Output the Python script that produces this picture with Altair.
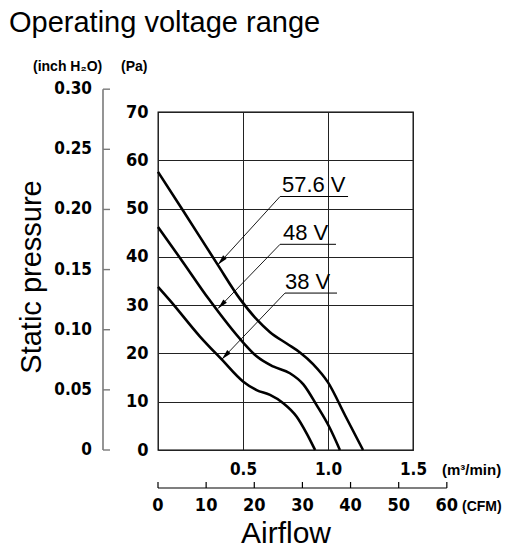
import math
import altair as alt
import pandas as pd

# ---- chart values ---------------------------------------------------------
title_text = "Operating voltage range"
series_names = ["57.6 V", "48 V", "38 V"]

# airflow (m3/min) and static pressure (Pa) along each voltage curve
flow_576 = [0, 0.147, 0.347, 0.482, 0.582, 0.659, 0.759, 0.835, 0.912, 1.0, 1.1, 1.206]
pres_576 = [57.6, 49.6, 38.6, 31.3, 27.0, 24.4, 22.0, 20.2, 17.8, 14.0, 7.2, 0]

flow_48 = [0, 0.147, 0.3, 0.5, 0.58, 0.677, 0.776, 0.855, 0.933, 1.01, 1.07]
pres_48 = [46.2, 38.9, 31.2, 22.3, 19.4, 17.3, 15.9, 13.6, 9.3, 4.6, 0]

flow_38 = [0, 0.07, 0.247, 0.376, 0.5, 0.58, 0.659, 0.737, 0.816, 0.875, 0.924]
pres_38 = [33.8, 31.0, 23.5, 18.7, 14.2, 12.4, 11.4, 9.7, 6.9, 3.4, 0]

# callout labels: text anchor, underline, arrow tip (data units)
label_flow = [0.729, 0.735, 0.747]
label_pres = [53.4, 43.5, 33.3]
underline_start = [0.718, 0.718, 0.747]
underline_end = [1.118, 1.047, 1.053]
underline_pres = [52.5, 42.6, 32.5]
tip_flow = [0.353, 0.353, 0.376]
tip_pres = [38.4, 29.3, 18.8]

pa_ticks = [0, 10, 20, 30, 40, 50, 60, 70]
inch_ticks = [0, 0.05, 0.10, 0.15, 0.20, 0.25, 0.30]
flow_ticks = [0.5, 1.0, 1.5]
cfm_ticks = [0, 10, 20, 30, 40, 50, 60]

PA_PER_INCH = 249.089
CFM_PER_M3MIN = 35.3147

# ---- layout ---------------------------------------------------------------
W, H = 255, 338
X_MAX, Y_MAX = 1.5, 70
NUM_FONT = "Liberation Sans Narrow, DejaVu Sans Condensed, sans-serif"
TXT_FONT = "Liberation Sans, Arial, sans-serif"

xs = alt.Scale(domain=[0, X_MAX], nice=False, zero=False)
ys = alt.Scale(domain=[0, Y_MAX], nice=False, zero=False)

AX = alt.Axis(
    values=flow_ticks, format=".1f", title=None, ticks=False, domain=False,
    grid=True, gridColor="#222", gridWidth=1, labelFlush=False,
    labelFont=NUM_FONT, labelFontWeight="bold", labelFontSize=17,
    labelColor="black", labelPadding=11)
AY = alt.Axis(
    values=pa_ticks, title=None, ticks=False, domain=False,
    grid=True, gridColor="#222", gridWidth=1,
    labelFont=NUM_FONT, labelFontWeight="bold", labelFontSize=18,
    labelColor="black", labelPadding=10)


def X(field):
    return alt.X(field, scale=xs, axis=AX)


def Y(field):
    return alt.Y(field, scale=ys, axis=AY)


curves = pd.concat([
    pd.DataFrame({"series": n, "flow": f, "pressure": p})
    for n, f, p in [
        (series_names[0], flow_576, pres_576),
        (series_names[1], flow_48, pres_48),
        (series_names[2], flow_38, pres_38),
    ]
], ignore_index=True)

# arrowhead orientation in screen space (clockwise from "up")
angles = []
for i in range(3):
    dx = (tip_flow[i] - underline_start[i]) * W / X_MAX
    dy = -(tip_pres[i] - underline_pres[i]) * H / Y_MAX
    angles.append(math.degrees(math.atan2(dx, -dy)) % 360)

callouts = pd.DataFrame({
    "series": series_names,
    "lx": label_flow, "ly": label_pres,
    "u0": underline_start, "u1": underline_end, "uy": underline_pres,
    "tx": tip_flow, "ty": tip_pres, "angle": angles,
})

lines = alt.Chart(curves).mark_line(
    interpolate="monotone", color="black", strokeWidth=2.6
).encode(x=X("flow:Q"), y=Y("pressure:Q"), detail="series:N")

label_text = alt.Chart(callouts).mark_text(
    align="left", baseline="alphabetic", font=TXT_FONT, fontSize=22, color="black"
).encode(x=X("lx:Q"), y=Y("ly:Q"), text="series:N")

underline = alt.Chart(callouts).mark_rule(color="black", strokeWidth=1).encode(
    x=X("u0:Q"), x2="u1:Q", y=Y("uy:Q"))

leader = alt.Chart(callouts).mark_rule(color="black", strokeWidth=0.9).encode(
    x=X("u0:Q"), x2="tx:Q", y=Y("uy:Q"), y2="ty:Q")

heads = alt.Chart(callouts).mark_point(
    shape="M0,0L0.24,1L-0.24,1Z", filled=True, color="black", opacity=1, size=420
).encode(x=X("tx:Q"), y=Y("ty:Q"), angle=alt.Angle("angle:Q", scale=None))

# secondary pressure axis in inch H2O, left of the Pa labels
inch_df = pd.DataFrame({"inch": inch_ticks})
inch_df["pa"] = inch_df["inch"] * PA_PER_INCH
inch_df["label"] = ["0" if v == 0 else f"{v:.2f}" for v in inch_ticks]
inch_span = pd.DataFrame({"lo": [0.0], "hi": [max(inch_ticks) * PA_PER_INCH]})

inch_line = alt.Chart(inch_span).mark_rule(color="#7a7a7a", strokeWidth=1.6).encode(
    x=alt.value(-55), y=Y("lo:Q"), y2="hi:Q")
inch_tick = alt.Chart(inch_df).mark_rule(color="#7a7a7a", strokeWidth=1.4).encode(
    x=alt.value(-55), x2=alt.value(-48), y=Y("pa:Q"))
inch_lab = alt.Chart(inch_df).mark_text(
    align="right", baseline="middle", font=NUM_FONT, fontWeight="bold",
    fontSize=17, color="black"
).encode(x=alt.value(-66), y=Y("pa:Q"), text="label:N")

# secondary airflow axis in CFM, below the m3/min labels
cfm_df = pd.DataFrame({"cfm": cfm_ticks})
cfm_df["flow"] = cfm_df["cfm"] / CFM_PER_M3MIN
cfm_df["label"] = [str(v) for v in cfm_ticks]
cfm_span = pd.DataFrame({"lo": [0.0], "hi": [max(cfm_ticks) / CFM_PER_M3MIN]})

CFM_Y = 376
cfm_line = alt.Chart(cfm_span).mark_rule(color="black", strokeWidth=1.2).encode(
    x=X("lo:Q"), x2="hi:Q", y=alt.value(CFM_Y))
cfm_tick = alt.Chart(cfm_df).mark_rule(color="black", strokeWidth=1.2).encode(
    x=X("flow:Q"), y=alt.value(CFM_Y - 6), y2=alt.value(CFM_Y))
cfm_lab = alt.Chart(cfm_df).mark_text(
    align="center", baseline="middle", font=NUM_FONT, fontWeight="bold",
    fontSize=18, color="black"
).encode(x=X("flow:Q"), y=alt.value(CFM_Y + 18), text="label:N")


def free_text(txt, x, y, size, align="left", weight="normal", font=TXT_FONT,
              angle=0, baseline="alphabetic"):
    kw = dict(align=align, baseline=baseline, font=font, fontSize=size,
              fontWeight=weight, color="black")
    if angle:
        kw["angle"] = angle
    return alt.Chart(pd.DataFrame({"t": [txt]})).mark_text(**kw).encode(
        x=alt.value(x), y=alt.value(y), text="t:N")


texts = [
    free_text(title_text, -149, -80, 29),
    free_text("(inch H\u2082O)", -125, -41, 14, weight="bold"),
    free_text("(Pa)", -37, -41, 14, weight="bold"),
    free_text("Static pressure", -117, 165, 29, align="center", angle=270),
    free_text("Airflow", 128, 431, 30, align="center"),
    free_text("(m\u00b3/min)", 284, 358, 15, weight="bold", baseline="middle"),
    free_text("(CFM)", 304, CFM_Y + 19, 14, weight="bold", baseline="middle"),
]

chart = alt.layer(
    lines, underline, leader, heads, label_text,
    inch_line, inch_tick, inch_lab,
    cfm_line, cfm_tick, cfm_lab,
    *texts,
).properties(
    width=W, height=H, background="white",
    autosize=alt.AutoSizeParams(type="none"),
    padding={"left": 158, "top": 112, "right": 109, "bottom": 105},
).configure_view(stroke="black", strokeWidth=1.3)

chart.save("out.html", embed_options={"renderer": "svg", "actions": False})
